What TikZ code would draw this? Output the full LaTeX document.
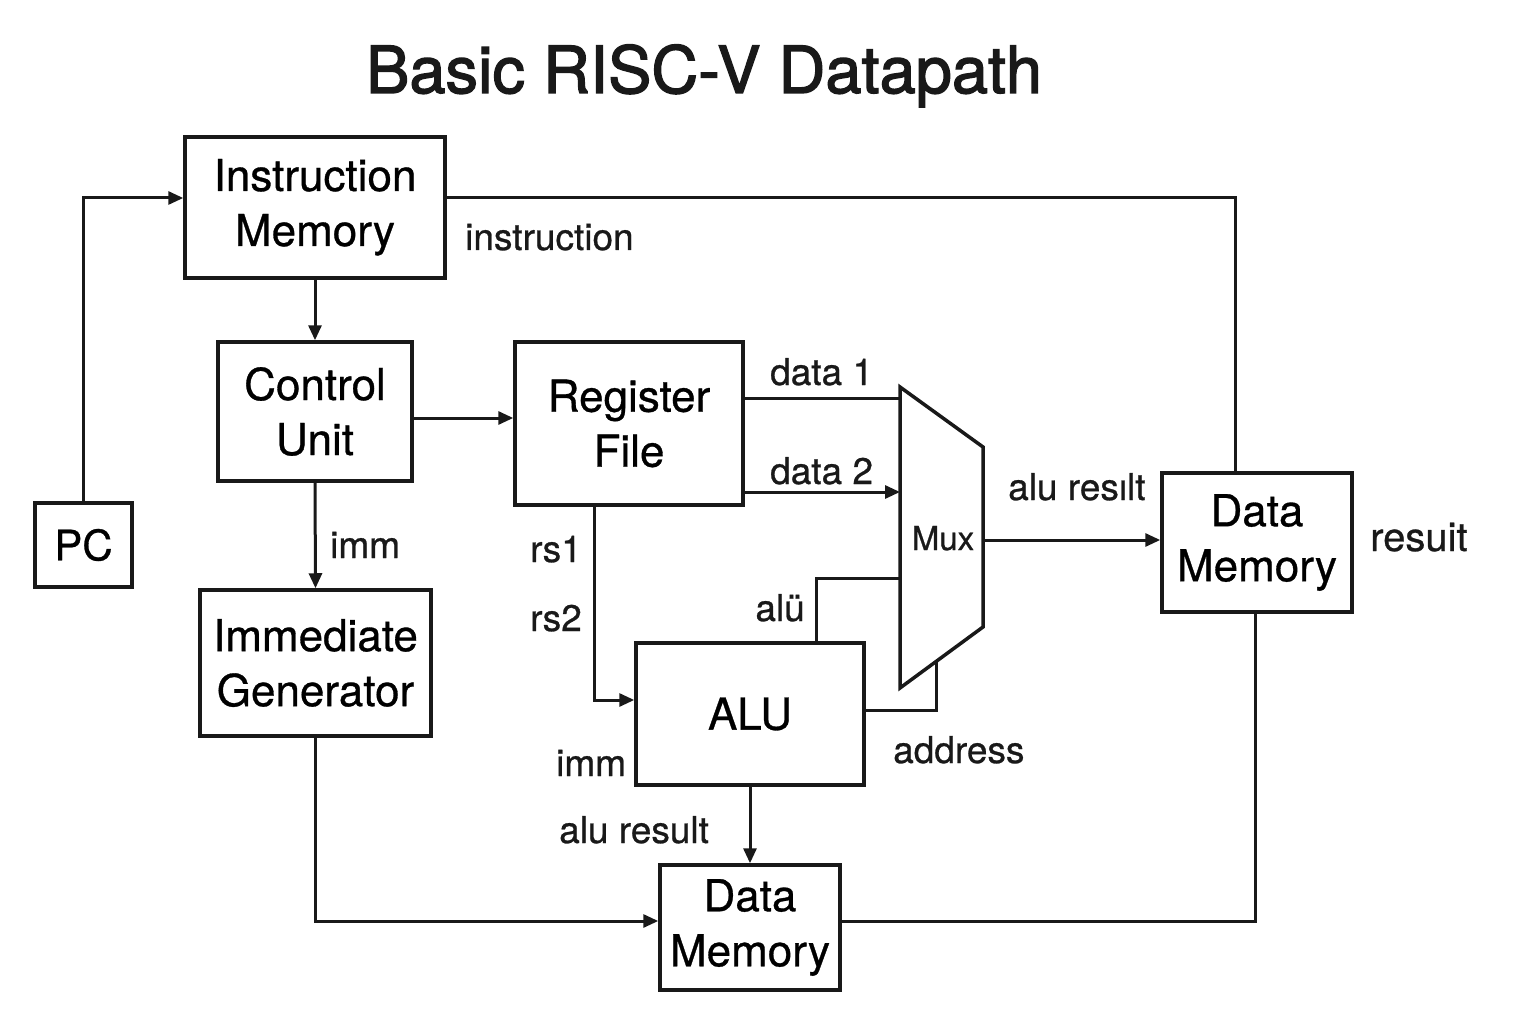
\documentclass[tikz,border=0pt]{standalone}
\usepackage{fontspec}
\setmainfont{TeX Gyre Heros}[FakeBold=0.7]
\newfontfamily\titlefont{TeX Gyre Heros}[FakeBold=2]
\usetikzlibrary{arrows.meta,calc}
\begin{document}
\begin{tikzpicture}[x=1pt,y=-1pt,
  blk/.style={draw=black!90,line width=3.5pt,fill=white,inner sep=0pt,align=center,
    font=\fontsize{44}{55}\selectfont},
  conn/.style={draw=black!90,line width=3pt},
  arr/.style={conn,-{Triangle[length=15pt,width=13pt]}},
  lbl/.style={font=\fontsize{37}{44}\selectfont,inner sep=0pt,text=black!90}
]
\useasboundingbox (0,0) rectangle (1536,1024);
\fill[white] (0,0) rectangle (1536,1024);

% title
\node[inner sep=0pt,anchor=base,font=\titlefont\fontsize{65}{78}\selectfont,text=black!90] (title) at (704,93) {Basic RISC-V Datapath};

% blocks
\node[blk,minimum width=260pt,minimum height=141pt] (im) at (315,207.5) {\raisebox{-5pt}{\begin{tabular}{@{}c@{}}Instruction\\[0pt]Memory\end{tabular}}};
\node[blk,minimum width=194pt,minimum height=139pt] (cu) at (315,411.5) {Control\\Unit};
\node[blk,minimum width=97pt,minimum height=84pt,font=\fontsize{42}{50}\selectfont] (pc) at (83.5,545) {PC};
\node[blk,minimum width=231pt,minimum height=146pt] (ig) at (315.5,663) {Immediate\\Generator};
\node[blk,minimum width=228pt,minimum height=163pt] (rf) at (629,423.5) {Register\\File};
\node[blk,minimum width=190pt,minimum height=139pt] (dmr) at (1257,542.5) {Data\\Memory};
\node[blk,minimum width=228pt,minimum height=142pt] (alu) at (750,714) {ALU};
\node[blk,minimum width=180pt,minimum height=125pt] (dmb) at (750,927.5) {Data\\Memory};

% mux
\coordinate (mtl) at (900,387);
\coordinate (mtr) at (983,447);
\coordinate (mbr) at (983,627);
\coordinate (mbl) at (900,688);
\draw[draw=black!90,line width=3.5pt,line join=miter] (mtl) -- (mtr) -- (mbr) -- (mbl) -- cycle;
\node[inner sep=0pt,anchor=base,font=\fontsize{33}{40}\selectfont,text=black!90] (mux) at (943,550) {Mux};
\coordinate (mi1) at (900,398);
\coordinate (mi2) at (900,492);
\coordinate (mi3) at (900,578);
\coordinate (mo) at (983,540);
\coordinate (mslant) at (936,662);

% connectors
\draw[arr] (pc.north) |- ([yshift=9.5pt]im.west);
\draw[arr] (im.south) -- (cu.north);
\draw[conn] ([yshift=9.5pt]im.east) -| ([xshift=-22pt]dmr.north);
\draw[arr] ([yshift=-6.5pt]cu.east) -- ([yshift=5.5pt]rf.west);
\draw[arr] (cu.south) -- (ig.north);
\draw[conn] (mi1 -| rf.east) -- (mi1);
\draw[arr] (mi2 -| rf.east) -- (mi2);
\draw[arr] ([xshift=-35pt]rf.south) |- ([yshift=14pt]alu.west);
\draw[conn] ([xshift=66pt]alu.north) |- (mi3);
\draw[conn] ([yshift=4pt]alu.east) -| (mslant);
\draw[arr] (mo) -- (mo -| dmr.west);
\draw[arr] (alu.south) -- (dmb.north);
\draw[arr] (ig.south) |- ([yshift=6.5pt]dmb.west);
\draw[conn] ([yshift=6.5pt]dmb.east) -| ([xshift=-2pt]dmr.south);

% labels
\node[lbl,anchor=base west] (l1) at (465,250) {instruction};
\node[lbl,anchor=base west] (l2) at (770,385) {data 1};
\node[lbl,anchor=base west] (l3) at (770,484) {data 2};
\node[lbl,anchor=base west] (l4) at (1008,500) {alu resılt};
\node[lbl,anchor=base west,font=\fontsize{40}{48}\selectfont] (l5) at (1370,551) {resuit};
\node[lbl,anchor=base west] (l6) at (330,558) {imm};
\node[lbl,anchor=base east] (l7) at (582,562) {rs1};
\node[lbl,anchor=base east] (l8) at (582,631) {rs2};
\node[lbl,anchor=base east] (l9) at (805,621) {alü};
\node[lbl,anchor=base west] (l10) at (556,776) {imm};
\node[lbl,anchor=base west] (l11) at (893,763) {address};
\node[lbl,anchor=base west] (l12) at (559,843) {alu result};
\end{tikzpicture}
\end{document}
